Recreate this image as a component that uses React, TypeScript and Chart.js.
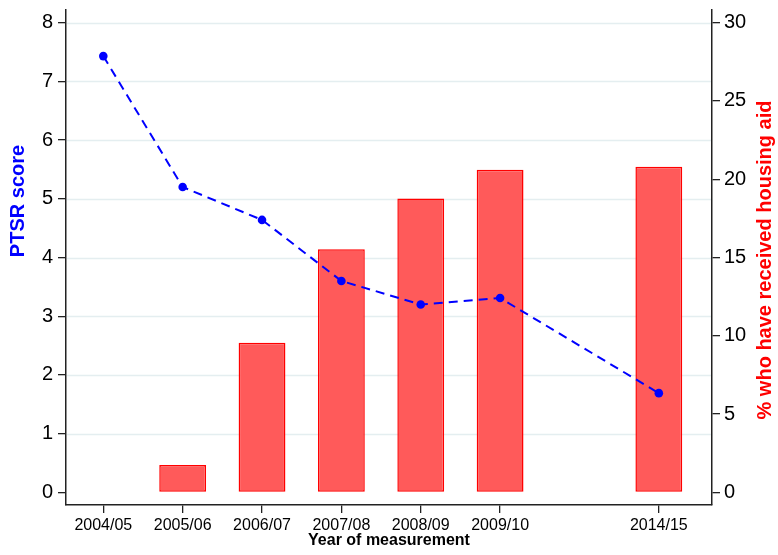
import React, { useEffect, useRef } from "react";
import { Chart, registerables } from "chart.js";

Chart.register(...registerables);

const yearLabels = ["2004/05", "2005/06", "2006/07", "2007/08", "2008/09", "2009/10", "2014/15"];
const xIndex = [0, 1, 2, 3, 4, 5, 7];
const ptsrScore = [7.43, 5.2, 4.64, 3.6, 3.2, 3.31, 1.69];
const housingAidPct = [null, 1.75, 9.55, 15.53, 18.77, 20.6, 20.8];
const leftTicks = [0, 1, 2, 3, 4, 5, 6, 7, 8];
const rightTicks = [0, 5, 10, 15, 20, 25, 30];
const gridTicks = [1, 2, 3, 4, 5, 6, 7, 8];

const FONT = "'Liberation Sans', Arial, Helvetica, sans-serif";

const gridPlugin = {
  id: "customGrid",
  beforeDatasetsDraw(chart: any) {
    const { ctx, chartArea, scales } = chart;
    const y = scales.y;
    ctx.save();
    ctx.strokeStyle = "#e4eef0";
    ctx.lineWidth = 1.5;
    for (const v of gridTicks) {
      const py = Math.round(y.getPixelForValue(v)) + 0.5;
      ctx.beginPath();
      ctx.moveTo(chartArea.left + 1, py);
      ctx.lineTo(chartArea.right - 1, py);
      ctx.stroke();
    }
    ctx.restore();
  },
};

const titlePlugin = {
  id: "customTitles",
  afterDraw(chart: any) {
    const { ctx, chartArea } = chart;
    ctx.save();
    ctx.textAlign = "center";
    ctx.textBaseline = "middle";
    ctx.font = `bold 20px ${FONT}`;
    ctx.fillStyle = "#0000ff";
    ctx.save();
    ctx.translate(18, 201);
    ctx.rotate(-Math.PI / 2);
    ctx.fillText("PTSR score", 0, 0);
    ctx.restore();
    ctx.fillStyle = "#ff0000";
    ctx.save();
    ctx.translate(765, 260);
    ctx.rotate(-Math.PI / 2);
    ctx.fillText("% who have received housing aid", 0, 0);
    ctx.restore();
    ctx.font = `bold 16px ${FONT}`;
    ctx.fillStyle = "#000000";
    ctx.fillText("Year of measurement", (chartArea.left + chartArea.right) / 2, 541);
    ctx.restore();
  },
};

const noPad = (s: any) => {
  s.paddingTop = 0;
  s.paddingBottom = 0;
  s.paddingLeft = 0;
  s.paddingRight = 0;
};

export default function App() {
  const ref = useRef<HTMLCanvasElement | null>(null);

  useEffect(() => {
    if (!ref.current) return;
    const lineData = xIndex.map((x, i) => ({ x, y: ptsrScore[i] }));
    const barData = xIndex.map((x, i) => ({ x, y: housingAidPct[i] }));

    const chart = new Chart(ref.current, {
      type: "bar",
      data: {
        datasets: [
          {
            type: "line",
            label: "PTSR score",
            data: lineData as any,
            yAxisID: "y",
            xAxisID: "x",
            borderColor: "#0000ff",
            backgroundColor: "#0000ff",
            borderWidth: 2,
            borderDash: [9, 6],
            pointRadius: 4.3,
            pointBackgroundColor: "#0000ff",
            pointBorderWidth: 0,
            tension: 0,
            order: 0,
          } as any,
          {
            type: "bar",
            label: "% who have received housing aid",
            data: barData as any,
            yAxisID: "y1",
            xAxisID: "x",
            backgroundColor: "#ff5a5a",
            borderColor: "#ff0000",
            borderWidth: 1.5,
            borderSkipped: false,
            barPercentage: 0.59,
            categoryPercentage: 1,
            order: 1,
          } as any,
        ],
      },
      options: {
        animation: false,
        responsive: false,
        devicePixelRatio: 1,
        layout: { padding: { top: 10, left: 0, right: 0, bottom: 0 } },
        plugins: {
          legend: { display: false },
          tooltip: { enabled: false },
        },
        scales: {
          x: {
            type: "linear",
            position: "bottom",
            min: -0.47,
            max: 7.67,
            offset: false,
            afterBuildTicks: (s: any) => {
              s.ticks = xIndex.map((v) => ({ value: v }));
            },
            afterFit: (s: any) => {
              s.height = 50;
              noPad(s);
            },
            ticks: {
              autoSkip: false,
              maxRotation: 0,
              padding: 3,
              color: "#000",
              font: { family: FONT, size: 16 },
              callback: (v: any) => {
                const i = xIndex.indexOf(Number(v));
                return i >= 0 ? yearLabels[i] : "";
              },
            },
            grid: {
              offset: false,
              drawOnChartArea: false,
              drawTicks: true,
              tickLength: 8,
              color: "#222",
              lineWidth: 1.3,
            },
            border: { display: true, color: "#222", width: 1.5 },
          },
          y: {
            type: "linear",
            position: "left",
            min: -0.215,
            max: 8.215,
            afterBuildTicks: (s: any) => {
              s.ticks = leftTicks.map((v) => ({ value: v }));
            },
            afterFit: (s: any) => {
              s.width = 66;
              noPad(s);
            },
            ticks: {
              padding: 5,
              color: "#000",
              font: { family: FONT, size: 20 },
              callback: (v: any) => String(v),
            },
            grid: {
              drawOnChartArea: false,
              drawTicks: true,
              tickLength: 8,
              color: "#222",
              lineWidth: 1.3,
            },
            border: { display: true, color: "#222", width: 1.5 },
          },
          y1: {
            type: "linear",
            position: "right",
            min: -0.8,
            max: 30.8,
            afterBuildTicks: (s: any) => {
              s.ticks = rightTicks.map((v) => ({ value: v }));
            },
            afterFit: (s: any) => {
              s.width = 66;
              noPad(s);
            },
            ticks: {
              padding: 4,
              color: "#000",
              font: { family: FONT, size: 20 },
              callback: (v: any) => String(v),
            },
            grid: {
              drawOnChartArea: false,
              drawTicks: true,
              tickLength: 8,
              color: "#222",
              lineWidth: 1.3,
            },
            border: { display: true, color: "#222", width: 1.5 },
          },
        },
      },
      plugins: [gridPlugin, titlePlugin],
    });

    return () => chart.destroy();
  }, []);

  return (
    <div style={{ position: "absolute", left: 0, top: 0, width: 778, height: 555, background: "#fff" }}>
      <canvas ref={ref} width={778} height={555} style={{ display: "block" }} />
    </div>
  );
}
